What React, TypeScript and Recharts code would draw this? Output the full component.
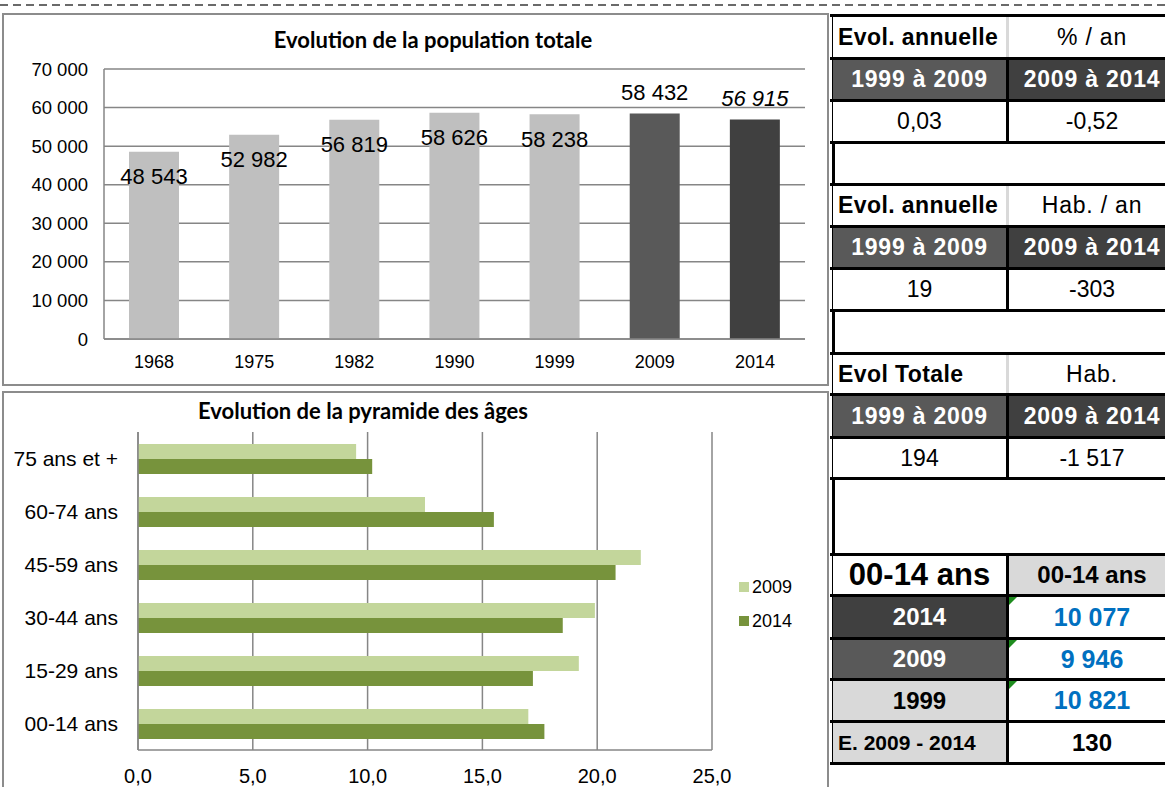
import React from 'react';
import { BarChart, Bar, XAxis, YAxis, CartesianGrid, Cell, LabelList, Legend } from 'recharts';

// ---- Population totale ----
const years = ['1968', '1975', '1982', '1990', '1999', '2009', '2014'];
const population = [48543, 52982, 56819, 58626, 58238, 58432, 56915];
const popColors = ['#BFBFBF', '#BFBFBF', '#BFBFBF', '#BFBFBF', '#BFBFBF', '#595959', '#404040'];
const popTicks = [0, 10000, 20000, 30000, 40000, 50000, 60000, 70000];

// ---- Pyramide des âges (%) ----
const ageGroups = ['75 ans et +', '60-74 ans', '45-59 ans', '30-44 ans', '15-29 ans', '00-14 ans'];
const share2009 = [9.5, 12.5, 21.9, 19.9, 19.2, 17.0];
const share2014 = [10.2, 15.5, 20.8, 18.5, 17.2, 17.7];
const shareTicks = [0, 5, 10, 15, 20, 25];

// ---- Table ----
const tableRows: { kind: string; left?: string; right?: string }[] = [
  { kind: 'title', left: 'Evol. annuelle', right: '% / an' },
  { kind: 'head', left: '1999 à 2009', right: '2009 à 2014' },
  { kind: 'value', left: '0,03', right: '-0,52' },
  { kind: 'empty' },
  { kind: 'title', left: 'Evol. annuelle', right: 'Hab. / an' },
  { kind: 'head', left: '1999 à 2009', right: '2009 à 2014' },
  { kind: 'value', left: '19', right: '-303' },
  { kind: 'empty' },
  { kind: 'title', left: 'Evol Totale', right: 'Hab.' },
  { kind: 'head', left: '1999 à 2009', right: '2009 à 2014' },
  { kind: 'value', left: '194', right: '-1 517' },
  { kind: 'empty' },
  { kind: 'ageTitle', left: '00-14 ans', right: '00-14 ans' },
  { kind: 'y2014', left: '2014', right: '10 077' },
  { kind: 'y2009', left: '2009', right: '9 946' },
  { kind: 'y1999', left: '1999', right: '10 821' },
  { kind: 'diff', left: 'E. 2009 - 2014', right: '130' },
];
const rowLines = [14, 57, 99, 141, 183, 225, 267, 309, 352, 393, 436, 477, 553, 594, 637, 678, 720, 762];

const popData = years.map((y, i) => ({ year: y, pop: population[i] }));
const ageData = ageGroups.map((g, i) => ({ age: g, y2009: share2009[i], y2014: share2014[i] }));

const fmt = (n: number) => String(n).replace(/\B(?=(\d{3})+(?!\d))/g, ' ');
const fmtDec = (n: number) => n.toFixed(1).replace('.', ',');

const ARIAL = '"Liberation Sans", Arial, sans-serif';
const TITLE_FONT = 'Lato, "Open Sans", sans-serif';
const GRID = '#868686';

const PopLabel = (props: any) => {
  const { x, y, width, value, index } = props;
  const recent = index >= years.length - 2;
  const cx = x + width / 2;
  const cy = recent ? y - 21 : y + 25;
  return (
    <text
      x={cx}
      y={cy}
      textAnchor="middle"
      dominantBaseline="central"
      fontSize={22}
      fontFamily={ARIAL}
      fontStyle={index === years.length - 1 ? 'italic' : 'normal'}
      fill="#000"
    >
      {fmt(value)}
    </text>
  );
};

const AgeLegend = (props: any) => {
  const { payload } = props;
  return (
    <div style={{ fontFamily: ARIAL, fontSize: 18, color: '#000' }}>
      {payload.map((p: any) => (
        <div key={p.value} style={{ display: 'flex', alignItems: 'center', height: 34 }}>
          <span style={{ width: 10, height: 10, background: p.color, display: 'inline-block', marginRight: 3 }} />
          <span>{p.value}</span>
        </div>
      ))}
    </div>
  );
};

const cellBase: React.CSSProperties = {
  position: 'absolute',
  top: 0,
  bottom: 0,
  display: 'flex',
  alignItems: 'center',
  justifyContent: 'center',
  fontFamily: ARIAL,
  whiteSpace: 'nowrap',
  overflow: 'hidden',
};

const Triangle = () => (
  <div
    style={{
      position: 'absolute',
      left: 0,
      top: 0,
      width: 0,
      height: 0,
      borderTop: '8px solid #1E8C1E',
      borderRight: '8px solid transparent',
    }}
  />
);

const TableRow = ({ row, top, height }: { row: any; top: number; height: number }) => {
  const L = 3;
  const leftW = 173;
  const sepW = 3;
  const rightX = L + leftW + sepW;
  let leftStyle: React.CSSProperties = {};
  let rightStyle: React.CSSProperties = {};
  let sepColor = '#000';
  let tri = false;
  switch (row.kind) {
    case 'title':
      leftStyle = { fontWeight: 'bold', fontSize: 23, letterSpacing: 0.4, justifyContent: 'flex-start', paddingLeft: 5, background: '#fff' };
      rightStyle = { fontSize: 23, letterSpacing: 0.8, background: '#fff' };
      sepColor = '#D9D9D9';
      break;
    case 'head':
      leftStyle = { fontWeight: 'bold', fontSize: 23, letterSpacing: 0.8, color: '#fff', background: '#595959' };
      rightStyle = { fontWeight: 'bold', fontSize: 23, letterSpacing: 0.8, color: '#fff', background: '#404040' };
      break;
    case 'value':
      leftStyle = { fontSize: 23, background: '#fff' };
      rightStyle = { fontSize: 23, background: '#fff' };
      break;
    case 'ageTitle':
      leftStyle = { fontWeight: 'bold', fontSize: 31, background: '#fff' };
      rightStyle = { fontWeight: 'bold', fontSize: 24, background: '#D9D9D9' };
      break;
    case 'y2014':
      leftStyle = { fontWeight: 'bold', fontSize: 24, color: '#fff', background: '#404040' };
      rightStyle = { fontWeight: 'bold', fontSize: 25, color: '#0070C0', background: '#fff' };
      tri = true;
      break;
    case 'y2009':
      leftStyle = { fontWeight: 'bold', fontSize: 24, color: '#fff', background: '#595959' };
      rightStyle = { fontWeight: 'bold', fontSize: 25, color: '#0070C0', background: '#fff' };
      tri = true;
      break;
    case 'y1999':
      leftStyle = { fontWeight: 'bold', fontSize: 24, color: '#000', background: '#D9D9D9' };
      rightStyle = { fontWeight: 'bold', fontSize: 25, color: '#0070C0', background: '#fff' };
      tri = true;
      break;
    case 'diff':
      leftStyle = { fontWeight: 'bold', fontSize: 21, color: '#000', background: '#D9D9D9', justifyContent: 'flex-start', paddingLeft: 5 };
      rightStyle = { fontWeight: 'bold', fontSize: 24, color: '#000', background: '#fff' };
      break;
    default:
      break;
  }
  return (
    <div style={{ position: 'absolute', left: 0, top, height, width: 345, borderTop: '3px solid #000', boxSizing: 'border-box' }}>
      {row.kind !== 'empty' && (
        <>
          <div style={{ ...cellBase, left: L, width: leftW, boxSizing: 'border-box', ...leftStyle }}>{row.left}</div>
          <div style={{ position: 'absolute', top: 0, bottom: 0, left: L + leftW, width: sepW, background: sepColor }} />
          <div style={{ ...cellBase, left: rightX, width: 166, ...rightStyle }}>
            {tri && <Triangle />}
            {row.right}
          </div>
        </>
      )}
    </div>
  );
};

export default function App() {
  return (
    <div style={{ position: 'fixed', left: 0, top: 0, width: 1165, height: 787, overflow: 'hidden', background: '#fff' }}>
      <svg style={{ position: 'absolute', left: 0, top: 0 }} width={1165} height={10}>
        <line x1={0} y1={5} x2={1165} y2={5} stroke="#3a3a3a" strokeWidth={1.5} strokeDasharray="8 5" />
      </svg>

      {/* Top chart */}
      <div style={{ position: 'absolute', left: 2, top: 13, width: 827, height: 373, border: '2px solid #8C8C8C', boxSizing: 'border-box' }} />
      <div style={{ position: 'absolute', left: 2, top: 13 }}>
        <BarChart width={826} height={372} data={popData} margin={{ top: 56, right: 23, left: 0, bottom: 10 }}>
          <CartesianGrid vertical={false} stroke={GRID} strokeWidth={1.5} />
          <XAxis
            dataKey="year"
            height={36}
            tickSize={0}
            tickMargin={16}
            axisLine={{ stroke: GRID, strokeWidth: 1.5 }}
            tick={{ fontSize: 18, fill: '#000', fontFamily: ARIAL }}
          />
          <YAxis
            width={102}
            domain={[0, 70000]}
            ticks={popTicks}
            tickSize={0}
            tickMargin={16}
            tickFormatter={(v: number) => fmt(v)}
            axisLine={{ stroke: GRID, strokeWidth: 1.5 }}
            tick={{ fontSize: 18.5, fill: '#000', fontFamily: ARIAL }}
          />
          <Bar dataKey="pop" barSize={50} isAnimationActive={false}>
            {popData.map((d, i) => (
              <Cell key={d.year} fill={popColors[i]} />
            ))}
            <LabelList dataKey="pop" content={<PopLabel />} />
          </Bar>
        </BarChart>
      </div>
      <div style={{ position: 'absolute', left: 2, width: 862, top: 27, textAlign: 'center', fontFamily: TITLE_FONT, fontWeight: 'bold', fontSize: 22, color: '#000', lineHeight: '26px' }}>
        Evolution de la population totale
      </div>

      {/* Bottom chart */}
      <div style={{ position: 'absolute', left: 2, top: 391, width: 827, height: 410, border: '2px solid #8C8C8C', boxSizing: 'border-box' }} />
      <div style={{ position: 'absolute', left: 2, top: 392 }}>
        <BarChart
          layout="vertical"
          width={826}
          height={395}
          data={ageData}
          margin={{ top: 40, right: 116, left: 0, bottom: 0 }}
          barGap={0}
        >
          <CartesianGrid horizontal={false} stroke={GRID} strokeWidth={1.5} />
          <XAxis
            type="number"
            domain={[0, 25]}
            ticks={shareTicks}
            height={37}
            tickSize={0}
            tickMargin={19}
            tickFormatter={(v: number) => fmtDec(v)}
            axisLine={{ stroke: GRID, strokeWidth: 1.5 }}
            tick={{ fontSize: 20, fill: '#000', fontFamily: ARIAL }}
          />
          <YAxis
            type="category"
            dataKey="age"
            width={136}
            tickSize={0}
            tickMargin={20}
            axisLine={{ stroke: GRID, strokeWidth: 1.5 }}
            tick={{ fontSize: 21, fill: '#000', fontFamily: ARIAL }}
          />
          <Bar dataKey="y2009" name="2009" fill="#C3D69B" barSize={15} isAnimationActive={false} />
          <Bar dataKey="y2014" name="2014" fill="#77933C" barSize={15} isAnimationActive={false} />
          <Legend
            content={<AgeLegend />}
            layout="vertical"
            align="center"
            verticalAlign="middle"
            wrapperStyle={{ position: 'absolute', left: 737, top: 178, width: 80, height: 68 }}
          />
        </BarChart>
      </div>
      <div style={{ position: 'absolute', left: 2, width: 722, top: 398, textAlign: 'center', fontFamily: TITLE_FONT, fontWeight: 'bold', fontSize: 22, color: '#000', lineHeight: '26px' }}>
        Evolution de la pyramide des âges
      </div>

      {/* Right table */}
      <div style={{ position: 'absolute', left: 830, top: 0, width: 345, height: 787 }}>
        <div style={{ position: 'absolute', left: 2, top: rowLines[0], width: 3, height: rowLines[rowLines.length - 1] - rowLines[0] + 3, background: '#000' }} />
        {tableRows.map((row, i) => (
          <TableRow key={i} row={row} top={rowLines[i]} height={rowLines[i + 1] - rowLines[i]} />
        ))}
        <div style={{ position: 'absolute', left: 0, top: rowLines[rowLines.length - 1], width: 345, height: 3, background: '#000' }} />
      </div>
    </div>
  );
}
